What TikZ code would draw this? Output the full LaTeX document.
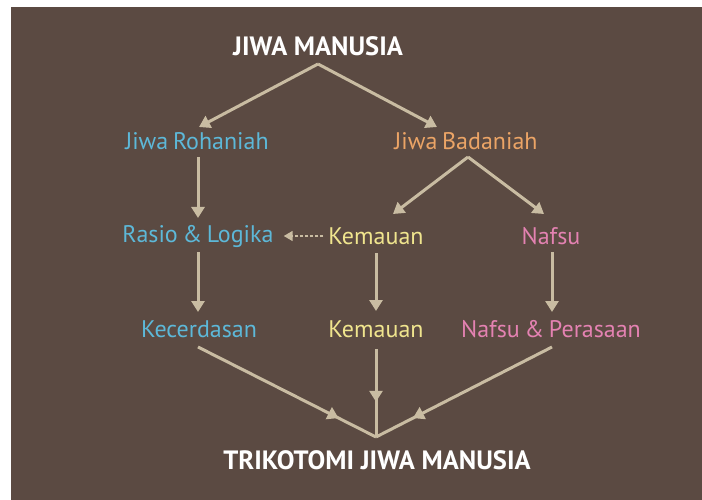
\documentclass[tikz,border=0pt]{standalone}
\usepackage{fontspec}
\setmainfont{PT Sans}
\usetikzlibrary{arrows.meta,decorations.markings}
\definecolor{bgbrown}{HTML}{5B4A42}
\definecolor{arrowc}{HTML}{C9BCA2}
\definecolor{tblue}{HTML}{5DB8D8}
\definecolor{torange}{HTML}{EBA466}
\definecolor{tyellow}{HTML}{F0E58E}
\definecolor{tpink}{HTML}{E482B2}
\newcommand{\lblfont}{\fontsize{24}{27}\selectfont\spaceskip=0.2em\relax}
\tikzset{
  lbl/.style={inner sep=3pt, font=\lblfont},
  title/.style={inner sep=3pt, text=white, font=\fontsize{26.5}{30}\selectfont\bfseries},
  arr/.style={draw=arrowc, line width=3pt, -{Triangle[length=11pt,width=13pt]}},
  dasharr/.style={draw=arrowc, line width=1.6pt, dash pattern=on 3pt off 2pt, -{Triangle[length=9pt,width=10pt]}},
  midarr/.style={draw=arrowc, line width=3pt, postaction={decorate},
    decoration={markings, mark=at position #1 with {\arrow{Triangle[length=11pt,width=13pt]}}}}
}
\begin{document}
\begin{tikzpicture}[x=1pt,y=-1pt]
\useasboundingbox (0,0) rectangle (702,500);
\fill[white] (0,0) rectangle (702,500);
\fill[bgbrown] (11,7) rectangle (702,500);

\node[title] (jm) at (318,46) {JIWA MANUSIA};
\node[lbl, text=tblue] (jr) at (197,141) {Jiwa Rohaniah};
\node[lbl, text=torange] (jb) at (466,141) {Jiwa Badaniah};
\node[lbl, text=tblue] (rl) at (198,236) {Rasio \& Logika};
\node[lbl, text=tyellow] (k1) at (376,236) {Kemauan};
\node[lbl, text=tpink] (nf) at (551,236) {Nafsu};
\node[lbl, text=tblue] (kc) at (199,329) {Kecerdasan};
\node[lbl, text=tyellow] (k2) at (376,329) {Kemauan};
\node[lbl, text=tpink] (np) at (551,329) {Nafsu \& Perasaan};
\node[title] (tk) at (377,460) {TRIKOTOMI JIWA MANUSIA};

\coordinate (top) at (318,64);
\coordinate (bot) at (468,157);
\coordinate (meet) at (376,437);

\draw[arr] (top) -- (199,127);
\draw[arr] (top) -- (437,127);
\draw[arr] (bot) -- (393,214);
\draw[arr] (bot) -- (544,214);

\draw[arr] (198,157) -- (198,218);
\draw[arr] (198,252) -- (198,312);
\draw[arr] (376,253) -- (376,311);
\draw[arr] (552,252) -- (552,312);

\draw[dasharr, shorten >=7pt, shorten <=2pt] (k1.west) -- (rl.east);

\draw[midarr=0.79] (198,347) -- (meet);
\draw[midarr=0.79] (552,347) -- (meet);
\draw[midarr=0.6] (376,349) -- (meet);
\end{tikzpicture}
\end{document}
